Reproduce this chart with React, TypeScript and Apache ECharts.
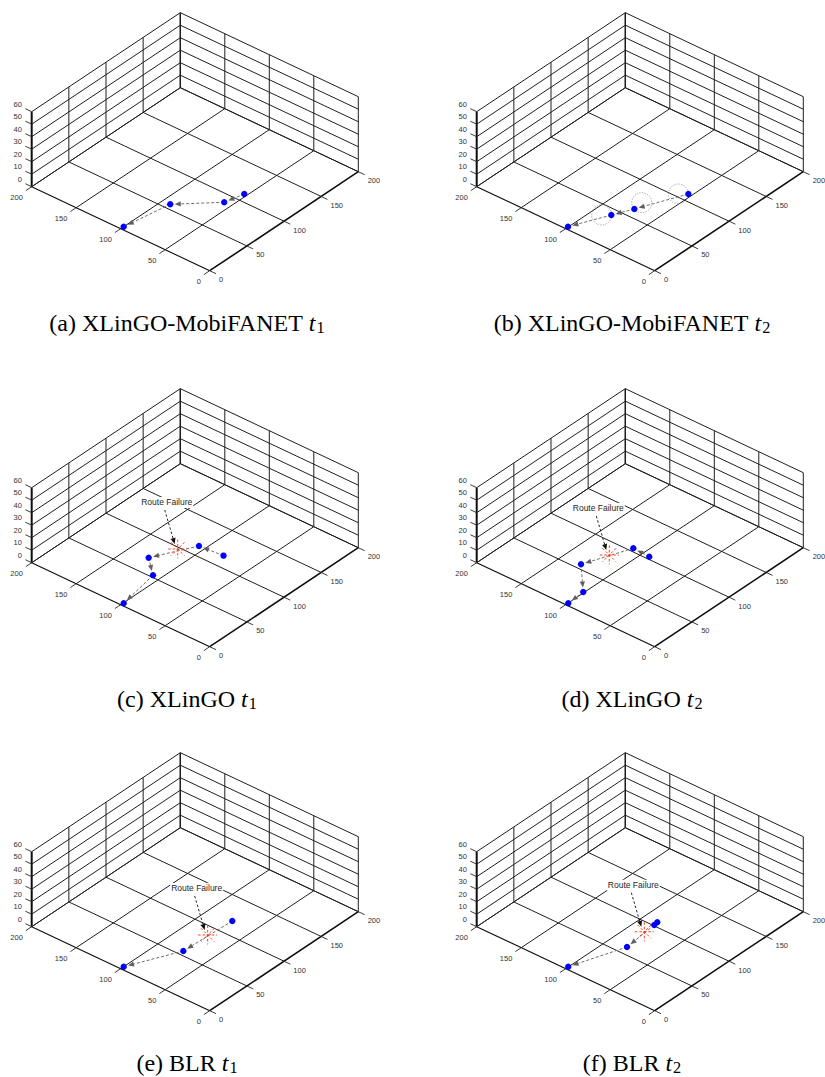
import React, { useEffect, useRef } from "react";
import * as echarts from "echarts";

// ---------- axes ----------
const AB_TICKS = [0, 50, 100, 150, 200];
const Z_TICKS = [0, 10, 20, 30, 40, 50, 60];
const AB_MAX = 200;
const Z_MAX = 60;

// ---------- captions ----------
const CAPTION_TEXTS = [
  "(a) XLinGO-MobiFANET",
  "(b) XLinGO-MobiFANET",
  "(c) XLinGO",
  "(d) XLinGO",
  "(e) BLR",
  "(f) BLR",
];
const CAPTION_SUBS = ["1", "2", "1", "2", "1", "2"];
const FAILURE_LABEL = "Route Failure";

// ---------- node positions [a, b, z] ----------
const NODES_A = [[53, 110, 0], [58, 89, 0], [91.5, 56.5, 0], [100, 4, 0]];
const NODES_B = [[53.6, 109.5, 0], [74.3, 61.6, 0], [83.5, 41.6, 0], [100.5, 3.7, 0]];
const NODES_C = [[80.8, 115.4, 0], [106.5, 113.1, 0], [128, 71.2, 0], [107.8, 52.8, 0], [99.4, 3.3, 0]];
const NODES_D = [[92.4, 103.4, 0], [111.2, 104.4, 0], [129.8, 56.3, 0], [101, 24.8, 0], [99.7, 3.1, 0]];
const NODES_E = [[73.7, 118.7, 0], [76.3, 55.9, 0], [100, 4, 0]];
const NODES_F = [[85.6, 106, 0], [84.9, 101.1, 0], [81.1, 59.9, 0], [100.3, 3.8, 0]];

// ---------- hops [from, to] ----------
const HOPS_A = [[0, 1], [1, 2], [2, 3]];
const HOPS_B = [[0, 1], [1, 2], [2, 3]];
const HOPS_C = [[0, 1], [1, 2], [2, 3], [3, 4]];
const HOPS_D = [[0, 1], [1, 2], [2, 3], [3, 4]];
const HOPS_E = [[0, 1], [1, 2]];
const HOPS_F = [[1, 2], [2, 3]];

// ---------- communication ranges (panel b) ----------
const RANGES_B = [[60.2, 103.9, 0], [75.7, 73.2, 0], [89.9, 36.3, 0]];

// ---------- route failures [a, b, z] ----------
const FAILURE_C = [117.5, 97.7, 0];
const FAILURE_D = [120.4, 83.1, 0];
const FAILURE_E = [76.1, 88.4, 0];
const FAILURE_F = [84.8, 87.6, 0];

const PANEL_NODES = [NODES_A, NODES_B, NODES_C, NODES_D, NODES_E, NODES_F];
const PANEL_HOPS = [HOPS_A, HOPS_B, HOPS_C, HOPS_D, HOPS_E, HOPS_F];
const PANEL_RANGES = [[], RANGES_B, [], [], [], []];
const PANEL_FAILURES = [null, null, FAILURE_C, FAILURE_D, FAILURE_E, FAILURE_F];

// ---------- layout ----------
const W = 825;
const H = 1077;
const COL_OFFSET = [0, 445];
const ROW_OFFSET = [0, 376, 740];
const FRONT = [209.7, 270.7];
const EDGE_A = [-178, -84];
const EDGE_B = [148.6, -99];
const HEIGHT_Z = 75;
const CAPTION_CX = [187, 632];
const CAPTION_CY = [323, 699, 1063];
const TICK_LEN = 7;
const LABEL_FONT = '"Liberation Sans", Arial, sans-serif';
const SERIF = '"Liberation Serif", "Times New Roman", serif';
const CAPTION_SIZE = 24;

function project(p: number, a: number, b: number, z: number): [number, number] {
  const ox = FRONT[0] + COL_OFFSET[p % 2];
  const oy = FRONT[1] + ROW_OFFSET[Math.floor(p / 2)];
  return [
    ox + (a / AB_MAX) * EDGE_A[0] + (b / AB_MAX) * EDGE_B[0],
    oy + (a / AB_MAX) * EDGE_A[1] + (b / AB_MAX) * EDGE_B[1] - (z / Z_MAX) * HEIGHT_Z,
  ];
}

function unit(v: number[]) {
  const l = Math.hypot(v[0], v[1]);
  return [v[0] / l, v[1] / l];
}

// box lines: [a1,b1,z1,a2,b2,z2,kind]
function buildBoxLines() {
  const L: number[][] = [];
  for (const t of AB_TICKS) {
    L.push([t, 0, 0, t, AB_MAX, 0, t === 0 ? 1 : 0]);
    L.push([0, t, 0, AB_MAX, t, 0, t === 0 ? 3 : 0]);
    L.push([AB_MAX, t, 0, AB_MAX, t, Z_MAX, t === 0 ? 2 : t === AB_MAX ? 4 : 0]);
    L.push([t, AB_MAX, 0, t, AB_MAX, Z_MAX, 0]);
  }
  for (const zt of Z_TICKS) {
    L.push([AB_MAX, 0, zt, AB_MAX, AB_MAX, zt, 0]);
    L.push([0, AB_MAX, zt, AB_MAX, AB_MAX, zt, 0]);
  }
  return L;
}
const BOX_LINES = buildBoxLines();
// ticks: [axis, value]  axis 0 = a, 1 = b, 2 = z
const TICKS = [
  ...AB_TICKS.map((t) => [0, t]),
  ...AB_TICKS.map((t) => [1, t]),
  ...Z_TICKS.map((t) => [2, t]),
];

function panelSeries(p: number) {
  const P = (a: number, b: number, z: number) => project(p, a, b, z);
  const uA = unit(EDGE_A);
  const uB = unit(EDGE_B);
  const nodes = PANEL_NODES[p];
  const hops = PANEL_HOPS[p].map(([i, j]) => [...nodes[i], ...nodes[j]]);
  const failure = PANEL_FAILURES[p];
  const list: any[] = [];

  list.push({
    type: "custom",
    coordinateSystem: "none",
    silent: true,
    data: BOX_LINES,
    renderItem: (_: any, api: any) => {
      const s = P(api.value(0), api.value(1), api.value(2));
      const e = P(api.value(3), api.value(4), api.value(5));
      const k = api.value(6);
      const lw = k === 2 ? 2 : k === 1 ? 1.6 : k === 4 ? 1.3 : k === 3 ? 1.1 : 1;
      return {
        type: "line",
        shape: { x1: s[0], y1: s[1], x2: e[0], y2: e[1] },
        style: { stroke: k === 0 ? "#1f1f1f" : "#0d0d0d", lineWidth: lw },
      };
    },
  });

  list.push({
    type: "custom",
    coordinateSystem: "none",
    silent: true,
    data: TICKS,
    renderItem: (_: any, api: any) => {
      const axis = api.value(0);
      const v = api.value(1);
      let base: number[], dir: number[], lx: number, ly: number, align: string;
      if (axis === 0) {
        base = P(v, 0, 0);
        dir = [-uB[0], -uB[1]];
      } else if (axis === 1) {
        base = P(0, v, 0);
        dir = [-uA[0], -uA[1]];
      } else {
        base = P(AB_MAX, 0, v);
        dir = [uA[0], uA[1]];
      }
      const end = [base[0] + dir[0] * TICK_LEN, base[1] + dir[1] * TICK_LEN];
      if (axis === 0) {
        lx = end[0] - 3; ly = end[1] + 7; align = "right";
      } else if (axis === 1) {
        lx = end[0] + 3; ly = end[1] + 6; align = "left";
      } else {
        lx = end[0] - 3.5; ly = end[1] - 4.5; align = "right";
      }
      return {
        type: "group",
        children: [
          {
            type: "line",
            shape: { x1: base[0], y1: base[1], x2: end[0], y2: end[1] },
            style: { stroke: "#262626", lineWidth: 0.9 },
          },
          {
            type: "text",
            x: lx,
            y: ly,
            style: {
              text: String(v),
              fill: "#333333",
              fontSize: 7.5,
              fontFamily: LABEL_FONT,
              align,
              verticalAlign: "middle",
            },
          },
        ],
      };
    },
  });

  if (PANEL_RANGES[p].length) {
    list.push({
      type: "custom",
      coordinateSystem: "none",
      silent: true,
      data: PANEL_RANGES[p],
      renderItem: (_: any, api: any) => {
        const c = P(api.value(0), api.value(1), api.value(2));
        return {
          type: "circle",
          shape: { cx: c[0], cy: c[1], r: 10 },
          style: { fill: "none", stroke: "#8c8c8c", lineWidth: 0.8, lineDash: [1.2, 1.4] },
        };
      },
    });
  }

  list.push({
    type: "custom",
    coordinateSystem: "none",
    silent: true,
    data: hops,
    renderItem: (_: any, api: any) => {
      const s = P(api.value(0), api.value(1), api.value(2));
      const e = P(api.value(3), api.value(4), api.value(5));
      const d = unit([e[0] - s[0], e[1] - s[1]]);
      const gap = 4.5, hl = 6, hw = 2.6;
      const tip = [e[0] - d[0] * gap, e[1] - d[1] * gap];
      const bs = [tip[0] - d[0] * hl, tip[1] - d[1] * hl];
      const n = [-d[1], d[0]];
      return {
        type: "group",
        children: [
          {
            type: "line",
            shape: { x1: s[0], y1: s[1], x2: bs[0], y2: bs[1] },
            style: { stroke: "#6e6e6e", lineWidth: 1, lineDash: [3, 2] },
          },
          {
            type: "polygon",
            shape: {
              points: [tip, [bs[0] + n[0] * hw, bs[1] + n[1] * hw], [bs[0] - n[0] * hw, bs[1] - n[1] * hw]],
            },
            style: { fill: "#5f5f5f" },
          },
        ],
      };
    },
  });

  list.push({
    type: "custom",
    coordinateSystem: "none",
    silent: true,
    data: nodes,
    renderItem: (_: any, api: any) => {
      const c = P(api.value(0), api.value(1), api.value(2));
      return {
        type: "circle",
        shape: { cx: c[0], cy: c[1], r: 3.2 },
        style: { fill: "#0000ff" },
      };
    },
  });

  if (failure) {
    list.push({
      type: "custom",
      coordinateSystem: "none",
      silent: true,
      data: [failure],
      renderItem: (_: any, api: any) => {
        const c = P(api.value(0), api.value(1), api.value(2));
        const rays: any[] = [];
        const R = 9.5;
        for (let k = 0; k < 4; k++) {
          const ang = (k * Math.PI) / 4;
          const dx = Math.cos(ang) * R, dy = Math.sin(ang) * R;
          rays.push({
            type: "line",
            shape: { x1: c[0] - dx, y1: c[1] - dy, x2: c[0] + dx, y2: c[1] + dy },
            style: { stroke: "#ff2a00", lineWidth: 0.9, lineDash: [2.5, 2] },
          });
        }
        const tail = [c[0] - 13, c[1] - 39];
        const tip = [c[0] - 3, c[1] - 5];
        const d = unit([tip[0] - tail[0], tip[1] - tail[1]]);
        const hl = 6, hw = 2.6;
        const bs = [tip[0] - d[0] * hl, tip[1] - d[1] * hl];
        const n = [-d[1], d[0]];
        return {
          type: "group",
          children: [
            ...rays,
            {
              type: "line",
              shape: { x1: tail[0], y1: tail[1], x2: bs[0], y2: bs[1] },
              style: { stroke: "#111", lineWidth: 0.9, lineDash: [2.5, 2] },
            },
            {
              type: "polygon",
              shape: {
                points: [tip, [bs[0] + n[0] * hw, bs[1] + n[1] * hw], [bs[0] - n[0] * hw, bs[1] - n[1] * hw]],
              },
              style: { fill: "#111" },
            },
            {
              type: "text",
              x: c[0] - 11,
              y: c[1] - 46.5,
              style: {
                text: FAILURE_LABEL,
                fill: "#262626",
                fontSize: 8.5,
                fontFamily: LABEL_FONT,
                align: "center",
                verticalAlign: "middle",
                backgroundColor: "#ffffff",
                padding: [1, 1],
              },
            },
          ],
        };
      },
    });
  }
  return list;
}

function measure(text: string, font: string) {
  const cv = document.createElement("canvas");
  const ctx = cv.getContext("2d");
  if (!ctx) return text.length * 10;
  ctx.font = font;
  return ctx.measureText(text).width;
}

function buildCaptions() {
  const els: any[] = [];
  const subSize = CAPTION_SIZE * 0.68;
  CAPTION_TEXTS.forEach((txt, p) => {
    const wMain = measure(txt, `${CAPTION_SIZE}px ${SERIF}`);
    const wSpace = measure(" ", `${CAPTION_SIZE}px ${SERIF}`);
    const wT = measure("t", `italic ${CAPTION_SIZE}px ${SERIF}`);
    const wSub = measure(CAPTION_SUBS[p], `${subSize}px ${SERIF}`);
    const total = wMain + wSpace + wT + 1 + wSub;
    const x0 = CAPTION_CX[p % 2] - total / 2;
    const y = CAPTION_CY[Math.floor(p / 2)];
    els.push({
      type: "text",
      x: x0,
      y,
      style: { text: txt, fontSize: CAPTION_SIZE, fontFamily: SERIF, fill: "#000", align: "left", verticalAlign: "middle" },
    });
    els.push({
      type: "text",
      x: x0 + wMain + wSpace,
      y,
      style: {
        text: "t",
        fontSize: CAPTION_SIZE,
        fontStyle: "italic",
        fontFamily: SERIF,
        fill: "#000",
        align: "left",
        verticalAlign: "middle",
      },
    });
    els.push({
      type: "text",
      x: x0 + wMain + wSpace + wT + 1,
      y: y + 4.5,
      style: { text: CAPTION_SUBS[p], fontSize: subSize, fontFamily: SERIF, fill: "#000", align: "left", verticalAlign: "middle" },
    });
  });
  return els;
}

export default function App() {
  const ref = useRef<HTMLDivElement>(null);
  useEffect(() => {
    if (!ref.current) return;
    const chart = echarts.init(ref.current, null, { renderer: "svg", width: W, height: H });
    const series: any[] = [];
    for (let p = 0; p < 6; p++) series.push(...panelSeries(p));
    chart.setOption({
      animation: false,
      backgroundColor: "#ffffff",
      series,
      graphic: buildCaptions(),
    });
    return () => chart.dispose();
  }, []);
  return (
    <div
      ref={ref}
      style={{ position: "fixed", left: 0, top: 0, width: W, height: H, background: "#fff" }}
    />
  );
}
